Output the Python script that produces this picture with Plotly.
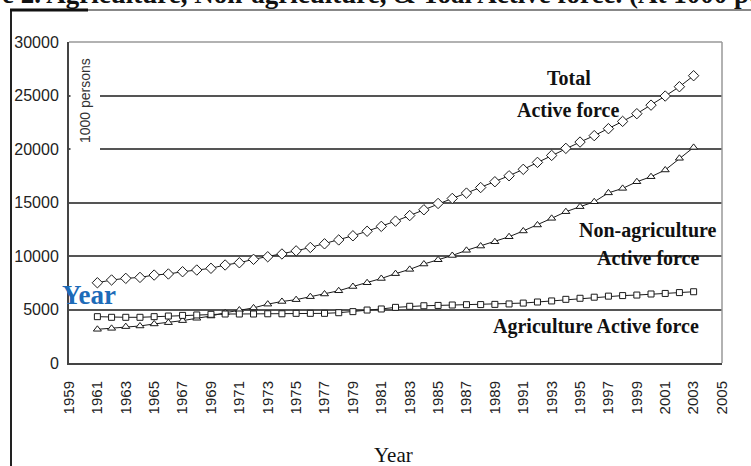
import plotly.graph_objects as go

# ---------------- data (1000 persons) ----------------
years = list(range(1961, 2004))

total_active = [7500, 7760, 7910, 8000, 8220, 8320, 8530, 8690, 8850, 9160,
                9370, 9690, 9930, 10190, 10480, 10800, 11140, 11500, 11890, 12310,
                12770, 13260, 13780, 14320, 14910, 15380, 15880, 16400, 16940, 17500,
                18100, 18750, 19400, 20060, 20650, 21250, 21900, 22580, 23300, 24100,
                24950, 25820, 26850]

non_agri_active = [3150, 3240, 3400, 3460, 3650, 3770, 3960, 4180, 4390, 4700,
                   4950, 5150, 5500, 5750, 5920, 6200, 6450, 6750, 7150, 7500,
                   7900, 8350, 8750, 9250, 9650, 10050, 10530, 10930, 11330, 11800,
                   12340, 12900, 13520, 14140, 14610, 15070, 15900, 16320, 16940, 17410,
                   18040, 19130, 20150]

agri_active = [4330, 4270, 4270, 4270, 4330, 4390, 4450, 4490, 4550, 4580,
               4580, 4580, 4600, 4600, 4640, 4640, 4640, 4700, 4800, 4950,
               5050, 5200, 5300, 5350, 5380, 5420, 5450, 5460, 5480, 5520,
               5600, 5700, 5800, 5950, 6050, 6150, 6250, 6300, 6350, 6450,
               6500, 6580, 6660]

x_tick_vals = list(range(1959, 2006, 2))
x_tick_text = [str(v) for v in x_tick_vals]
y_tick_vals = [0, 5000, 10000, 15000, 20000, 25000, 30000]
y_tick_text = [str(v) for v in y_tick_vals]

series_names = ["Total Active force", "Non-agriculture Active force", "Agriculture Active force"]
series_values = [total_active, non_agri_active, agri_active]

# ---------------- layout helpers (pixel -> paper) ----------------
W, H = 751, 466
L, R, T, B = 69, 722, 42, 363


def px(x):
    return (x - L) / (R - L)


def py(y):
    return (B - y) / (B - T)


symbols = ["diamond", "triangle-up", "square"]
sizes = [8, 7, 6]

fig = go.Figure()
for name, vals, sym, sz in zip(series_names, series_values, symbols, sizes):
    fig.add_trace(go.Scatter(
        x=years, y=vals, name=name, mode="lines+markers",
        line=dict(color="#1a1a1a", width=1),
        marker=dict(symbol=sym, size=sz, color="white",
                    line=dict(color="#1a1a1a", width=1)),
    ))

serif = "Liberation Serif, Times New Roman, serif"
sans = "Liberation Sans, Arial, sans-serif"


def label(text, x, y, size, color="#111", family=serif, **kw):
    d = dict(text=text, x=px(x), y=py(y), xref="paper", yref="paper",
             xanchor="center", yanchor="middle", showarrow=False,
             font=dict(family=family, size=size, color=color))
    d.update(kw)
    return d


annotations = [
    # cropped title at the very top
    dict(text="<b>Figure 2. Agriculture, Non-agriculture, &amp; Toal Active force. (At 1000 persons)</b>",
         x=px(-64), y=py(-6), xref="paper", yref="paper", xanchor="left", yanchor="middle",
         showarrow=False, font=dict(family=serif, size=27, color="#111")),
    # unit label
    label("1000 persons", 85, 101, 14, color="#333", family=sans, textangle=-90),
    # series labels
    label("<b>Total</b>", 569, 78, 20),
    label("<b>Active force</b>", 568, 110, 20),
    label("<b>Non-agriculture</b>", 648, 230, 20),
    label("<b>Active force</b>", 648, 258, 20),
    label("<b>Agriculture Active force</b>", 596, 326, 20),
    # blue overlay word
    label("<b>Year</b>", 89, 295, 27, color="#1d6bb8"),
    # x axis title
    label("Year", 393, 455, 21),
]

shapes = [
    # white box behind the unit label (covers gridlines)
    dict(type="rect", xref="paper", yref="paper", x0=px(70.5), x1=px(100), y0=py(157), y1=py(44),
         fillcolor="white", line=dict(width=0), layer="above"),
    # top and right plot borders
    dict(type="line", xref="paper", yref="paper", x0=0, x1=1, y0=1, y1=1,
         line=dict(color="#999", width=1.5)),
    dict(type="line", xref="paper", yref="paper", x0=1, x1=1, y0=0, y1=1,
         line=dict(color="#999", width=1.5)),
    # page frame
    dict(type="line", xref="paper", yref="paper", x0=px(11), x1=px(11), y0=py(10), y1=py(470),
         line=dict(color="#222", width=2)),
    dict(type="line", xref="paper", yref="paper", x0=px(10), x1=px(88), y0=py(10), y1=py(10),
         line=dict(color="#111", width=3)),
    dict(type="line", xref="paper", yref="paper", x0=px(88), x1=px(760), y0=py(10), y1=py(10),
         line=dict(color="#888", width=2)),
]

fig.update_layout(
    width=W, height=H,
    margin=dict(l=L, r=W - R, t=T, b=H - B, pad=0),
    paper_bgcolor="white", plot_bgcolor="white",
    showlegend=False,
    annotations=annotations,
    shapes=shapes,
    xaxis=dict(range=[1959, 2005], tickmode="array", tickvals=x_tick_vals, ticktext=x_tick_text,
               tickangle=-90, tickfont=dict(family=sans, size=15, color="#222"),
               showgrid=False, zeroline=False, showline=True, linecolor="#444", linewidth=2,
               ticks="", ticklabelstandoff=10),
    yaxis=dict(range=[0, 30000], tickmode="array", tickvals=y_tick_vals, ticktext=y_tick_text,
               tickfont=dict(family=sans, size=16, color="#222"),
               showgrid=True, gridcolor="#555", gridwidth=2, zeroline=False,
               showline=True, linecolor="#444", linewidth=2, ticks="", ticklabelstandoff=5),
)

fig.write_html("out.html", config={"displayModeBar": False},
               post_script="document.body.style.margin='0';document.body.style.overflow='hidden';")
